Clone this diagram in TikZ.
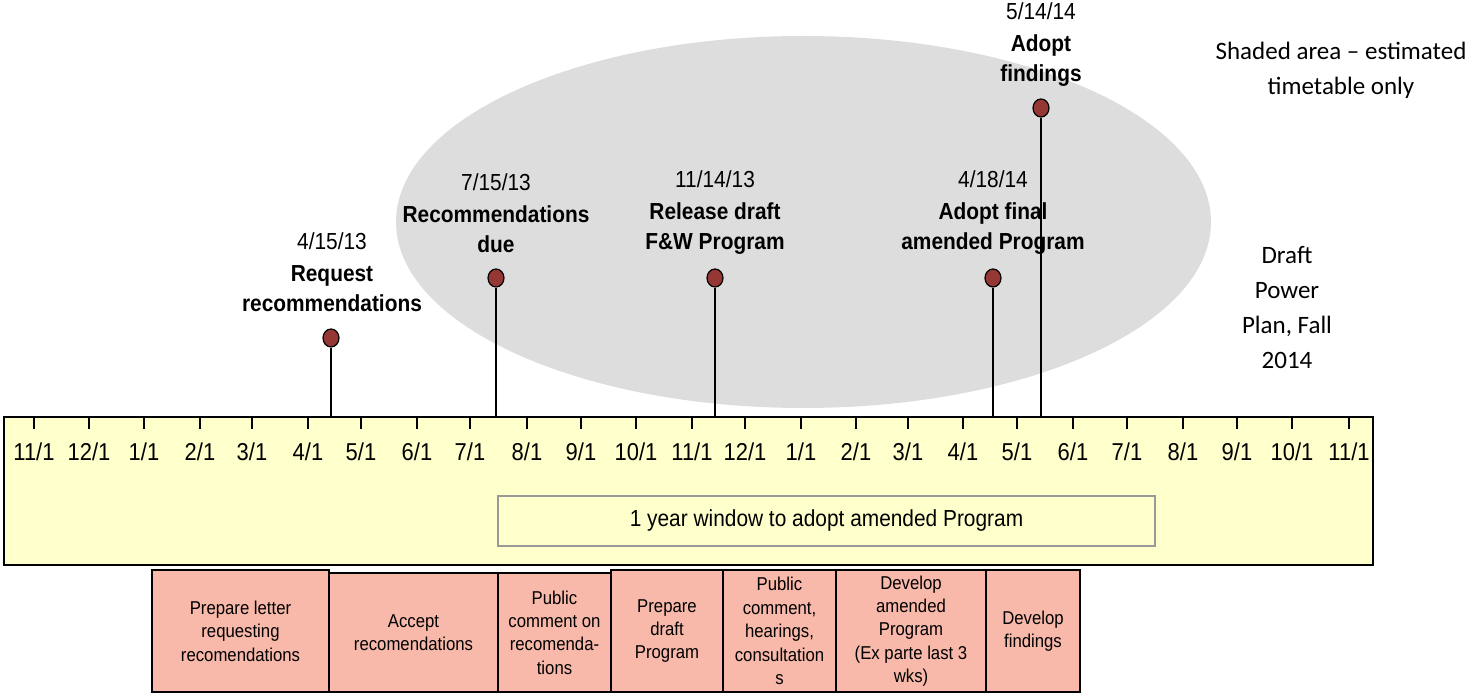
\documentclass[tikz,border=0pt]{standalone}
\usepackage{fontspec}
\setmainfont{Liberation Sans}[FakeStretch=0.9]
\newfontfamily\calibri{Carlito}
\usetikzlibrary{shapes.geometric}
\definecolor{barfill}{RGB}{255,255,204}
\definecolor{taskfill}{RGB}{248,185,170}
\definecolor{pinfill}{RGB}{149,55,53}
\definecolor{shadefill}{RGB}{221,221,221}
\tikzset{
  milepin/.style={ellipse,draw,fill=pinfill,minimum width=8pt,minimum height=9pt,inner sep=0pt,line width=0.6pt},
  milelabel/.style={align=center,font=\fontsize{11.6}{15}\selectfont},
  month/.style={font=\fontsize{12.2}{13}\selectfont},
  task/.style={draw,fill=taskfill,align=center,inner sep=1pt,line width=0.6pt,font=\fontsize{9.3}{11.7}\selectfont},
  note/.style={align=center,font=\calibri\fontsize{12.5}{17.5}\selectfont}
}
\begin{document}
\begin{tikzpicture}[x=0.5pt,y=-0.5pt]
\useasboundingbox (0,0) rectangle (1473,694);
\fill[shadefill] (803.5,222) ellipse [x radius=407.5,y radius=186];
\node[milelabel] (l1) at (332,272) {4/15/13\\[1pt]\textbf{Request}\\\textbf{recommendations}};
\node[milelabel] (l2) at (496,213) {7/15/13\\[1pt]\textbf{Recommendations}\\\textbf{due}};
\node[milelabel] (l3) at (715,213) {11/14/13\\[1pt]\textbf{Release draft}\\\textbf{F\&W Program}};
\node[milelabel] (l4) at (993,213) {4/18/14\\[1pt]\textbf{Adopt final}\\\textbf{amended Program}};
\node[milelabel] (l5) at (1041,45) {5/14/14\\[1pt]\textbf{Adopt}\\\textbf{findings}};
\node[note] (shaded) at (1341,70) {Shaded area – estimated\\timetable only};
\node[note] (plan) at (1287,308) {Draft\\Power\\Plan, Fall\\2014};
\node[milepin] (p1) at (331,338) {};
\node[milepin] (p2) at (496,278) {};
\node[milepin] (p3) at (715,278) {};
\node[milepin] (p4) at (993,278) {};
\node[milepin] (p5) at (1041,108) {};
\node[draw,line width=0.8pt,fill=barfill,minimum width=684.5pt,minimum height=74pt,inner sep=0pt] (bar) at (688.5,491) {};
\foreach \p in {p1,p2,p3,p4,p5}
  \draw[line width=0.6pt] (\p) -- (\p |- bar.north);
\foreach \x/\m in {34/11,89/12,144/1,200/2,252/3,308/4,361/5,417/6,470/7,527/8,581/9,636/10,
                   692/11,745/12,801/1,856/2,908/3,963/4,1017/5,1073/6,1127/7,1183/8,1237/9,1292/10,1349/11}{
  \draw[line width=0.6pt] (\x,417) -- (\x,429);
  \node[month] (m\x) at (\x,452) {\m/1};
}
\node[draw=gray!80,line width=0.8pt,fill=barfill,minimum width=328.5pt,minimum height=25pt,
      font=\fontsize{11.6}{13}\selectfont] (window) at (826.5,521) {1 year window to adopt amended Program};
\node[task,minimum width=88.5pt,minimum height=61pt] (t1) at (240.5,631) {Prepare letter\\requesting\\recomendations};
\node[task,minimum width=84.5pt,minimum height=59.5pt] (t2) at (413.5,632.5) {Accept\\recomendations};
\node[task,minimum width=56.5pt,minimum height=59.5pt] (t3) at (554.5,632.5) {Public\\comment on\\recomenda-\\tions};
\node[task,minimum width=56pt,minimum height=61pt] (t4) at (667,631) {Prepare\\draft\\Program};
\node[task,minimum width=56.5pt,minimum height=61pt] (t5) at (779.5,631) {Public\\comment,\\hearings,\\consultation\\s};
\node[task,minimum width=75pt,minimum height=61pt] (t6) at (911,631) {Develop\\amended\\Program\\(Ex parte last 3\\wks)};
\node[task,minimum width=47pt,minimum height=61pt] (t7) at (1033,631) {Develop\\findings};
\end{tikzpicture}
\end{document}
